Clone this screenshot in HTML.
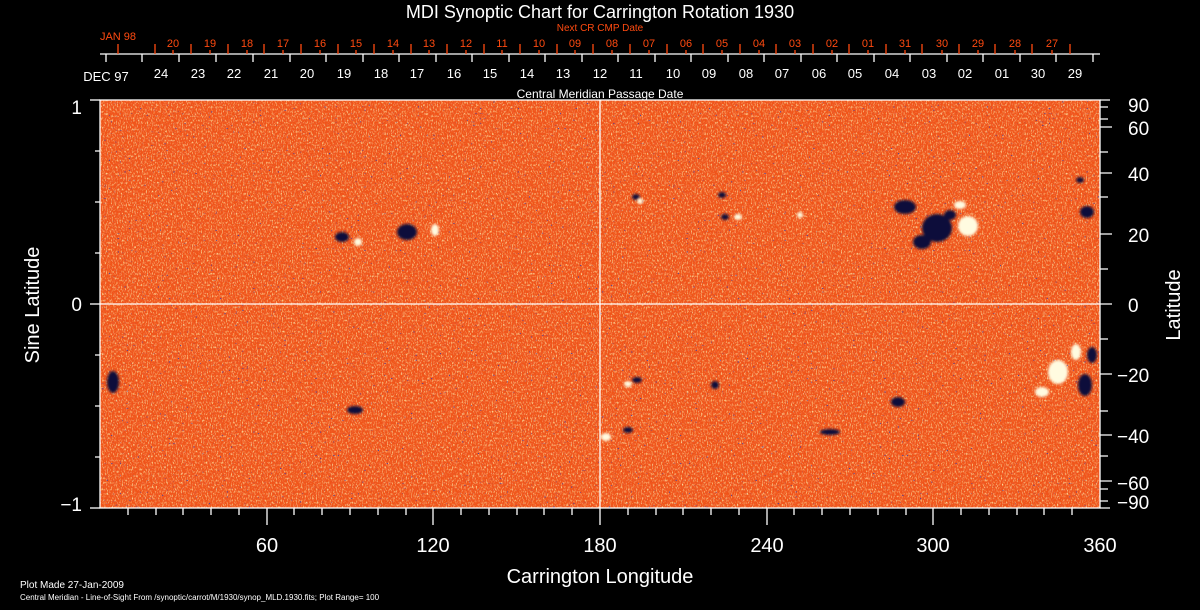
<!DOCTYPE html>
<html><head><meta charset="utf-8"><style>
html,body{margin:0;padding:0;background:#000;}
svg{display:block;}
text{font-family:"Liberation Sans",sans-serif;}
</style></head><body>
<svg width="1200" height="610" viewBox="0 0 1200 610" xmlns="http://www.w3.org/2000/svg">
<defs>
<filter id="tex" x="0" y="0" width="100%" height="100%">
<feTurbulence type="fractalNoise" baseFrequency="0.8 0.45" numOctaves="2" seed="3"/>
<feColorMatrix type="matrix" values="0 0 0 0 1  0 0 0 0 0.92  0 0 0 0 0.45  2.4 0 0 0 -1.2"/>
</filter>
<filter id="tex2" x="0" y="0" width="100%" height="100%">
<feTurbulence type="fractalNoise" baseFrequency="0.7 0.4" numOctaves="2" seed="9"/>
<feColorMatrix type="matrix" values="0 0 0 0 0.85  0 0 0 0 0.12  0 0 0 0 0.05  2 0 0 0 -0.95"/>
</filter>
<filter id="spk" x="0" y="0" width="100%" height="100%">
<feTurbulence type="fractalNoise" baseFrequency="0.45 0.6" numOctaves="1" seed="21"/>
<feColorMatrix type="matrix" values="0 0 0 0 0.05  0 0 0 0 0.05  0 0 0 0 0.4  10 0 0 0 -7.0"/>
</filter>
<filter id="bl"><feGaussianBlur stdDeviation="1.2"/></filter>
<clipPath id="cp"><rect x="100" y="100" width="1000" height="408"/></clipPath>
</defs>
<g clip-path="url(#cp)">
<rect x="100" y="100" width="1000" height="408" fill="#f05418"/>
<rect x="100" y="100" width="1000" height="408" filter="url(#tex2)"/>
<rect x="100" y="100" width="1000" height="408" filter="url(#tex)"/>
<rect x="100" y="100" width="1000" height="408" filter="url(#spk)"/>
<g fill="#0c0c3a" filter="url(#bl)">
<ellipse cx="937" cy="228" rx="15" ry="14"/><ellipse cx="905" cy="207" rx="11" ry="7"/>
<ellipse cx="922" cy="242" rx="9" ry="7"/><ellipse cx="950" cy="215" rx="6" ry="5"/>
<ellipse cx="1087" cy="212" rx="7" ry="6"/>
<ellipse cx="342" cy="237" rx="7" ry="5"/><ellipse cx="407" cy="232" rx="10" ry="8"/>
<ellipse cx="113" cy="382" rx="6" ry="11"/><ellipse cx="1085" cy="385" rx="7" ry="11"/>
<ellipse cx="1092" cy="355" rx="5" ry="8"/><ellipse cx="898" cy="402" rx="7" ry="5"/>
<ellipse cx="628" cy="430" rx="5" ry="3"/><ellipse cx="637" cy="380" rx="5" ry="3"/>
<ellipse cx="725" cy="217" rx="4" ry="3"/><ellipse cx="722" cy="195" rx="4" ry="3"/>
<ellipse cx="636" cy="197" rx="4" ry="3"/><ellipse cx="355" cy="410" rx="8" ry="4"/>
<ellipse cx="1080" cy="180" rx="4" ry="3"/><ellipse cx="830" cy="432" rx="10" ry="3"/>
<ellipse cx="715" cy="385" rx="4" ry="4"/>
</g>
<g fill="#fffbe0" filter="url(#bl)">
<ellipse cx="968" cy="226" rx="10" ry="10"/><ellipse cx="960" cy="205" rx="6" ry="4"/>
<ellipse cx="358" cy="242" rx="4" ry="4"/><ellipse cx="435" cy="230" rx="4" ry="6"/>
<ellipse cx="1058" cy="372" rx="10" ry="12"/><ellipse cx="1042" cy="392" rx="7" ry="5"/>
<ellipse cx="1076" cy="352" rx="5" ry="8"/><ellipse cx="606" cy="437" rx="5" ry="4"/>
<ellipse cx="628" cy="384" rx="4" ry="3"/><ellipse cx="738" cy="217" rx="4" ry="3"/>
<ellipse cx="640" cy="201" rx="3" ry="3"/><ellipse cx="800" cy="215" rx="3" ry="3"/>
</g>
</g>
<g stroke="#fff" stroke-width="1.3" fill="none">
<rect x="100" y="100" width="1000" height="408"/>
<line x1="100" y1="304" x2="1100" y2="304"/>
<line x1="600" y1="100" x2="600" y2="508"/>
<line x1="90" y1="100" x2="100" y2="100"/><line x1="90" y1="508" x2="100" y2="508"/><line x1="90" y1="304" x2="100" y2="304"/>
<path d="M95 151H100M95 202H100M95 253H100M95 355H100M95 406H100M95 457H100"/>
<path d="M128 508V515M156 508V515M183 508V515M211 508V515M239 508V515M267 508V525M294 508V515M322 508V515M350 508V515M378 508V515M406 508V515M433 508V525M461 508V515M489 508V515M517 508V515M544 508V515M572 508V515M600 508V525M628 508V515M656 508V515M683 508V515M711 508V515M739 508V515M767 508V525M794 508V515M822 508V515M850 508V515M878 508V515M906 508V515M933 508V525M961 508V515M989 508V515M1017 508V515M1044 508V515M1072 508V515"/>
<path d="M1100 100H1110M1100 107H1108M1100 119H1108M1100 127H1112M1100 152H1108M1100 173H1112M1100 197H1108M1100 234H1112M1100 269H1108M1100 304H1112M1100 339H1108M1100 374H1112M1100 411H1108M1100 435H1112M1100 456H1108M1100 481H1112M1100 489H1108M1100 501H1108M1100 508H1110"/>
<line x1="100" y1="54" x2="1100" y2="54"/>
<path d="M106 54V62M142 54V62M179 54V62M216 54V62M253 54V62M290 54V62M326 54V62M363 54V62M399 54V62M436 54V62M472 54V62M509 54V62M545 54V62M582 54V62M618 54V62M655 54V62M691 54V62M728 54V62M764 54V62M801 54V62M837 54V62M874 54V62M910 54V62M947 54V62M983 54V62M1020 54V62M1056 54V62M1093 54V62"/>
</g>
<g stroke="#ff4a10" stroke-width="1.3">
<path d="M118 54V44M155 54V44M191 54V44M228 54V44M264 54V44M301 54V44M338 54V44M374 54V44M411 54V44M447 54V44M484 54V44M520 54V44M557 54V44M593 54V44M630 54V44M667 54V44M703 54V44M740 54V44M776 54V44M813 54V44M849 54V44M886 54V44M922 54V44M959 54V44M995 54V44M1032 54V44M1070 54V44"/>
<path d="M173 54V50M210 54V50M247 54V50M283 54V50M320 54V50M356 54V50M393 54V50M429 54V50M466 54V50M502 54V50M539 54V50M575 54V50M612 54V50M649 54V50M686 54V50M722 54V50M759 54V50M795 54V50M832 54V50M868 54V50M905 54V50M942 54V50M978 54V50M1015 54V50M1052 54V50"/>
</g>
<text x="600" y="18" fill="#fff" font-size="18" text-anchor="middle">MDI Synoptic Chart for Carrington Rotation 1930</text>
<text x="600" y="31" fill="#ff4a10" font-size="10" text-anchor="middle">Next CR CMP Date</text>
<g fill="#ff4a10" font-size="11" text-anchor="middle">
<text x="118" y="40">JAN 98</text>
<text x="173" y="47">20</text><text x="210" y="47">19</text><text x="247" y="47">18</text><text x="283" y="47">17</text><text x="320" y="47">16</text><text x="356" y="47">15</text><text x="393" y="47">14</text><text x="429" y="47">13</text><text x="466" y="47">12</text><text x="502" y="47">11</text><text x="539" y="47">10</text><text x="575" y="47">09</text><text x="612" y="47">08</text><text x="649" y="47">07</text><text x="686" y="47">06</text><text x="722" y="47">05</text><text x="759" y="47">04</text><text x="795" y="47">03</text><text x="832" y="47">02</text><text x="868" y="47">01</text><text x="905" y="47">31</text><text x="942" y="47">30</text><text x="978" y="47">29</text><text x="1015" y="47">28</text><text x="1052" y="47">27</text>
</g>
<g fill="#fff" font-size="13" text-anchor="middle">
<text x="106" y="81">DEC 97</text>
<text x="161" y="78">24</text><text x="198" y="78">23</text><text x="234" y="78">22</text><text x="271" y="78">21</text><text x="307" y="78">20</text><text x="344" y="78">19</text><text x="381" y="78">18</text><text x="417" y="78">17</text><text x="454" y="78">16</text><text x="490" y="78">15</text><text x="527" y="78">14</text><text x="563" y="78">13</text><text x="600" y="78">12</text><text x="636" y="78">11</text><text x="673" y="78">10</text><text x="709" y="78">09</text><text x="746" y="78">08</text><text x="782" y="78">07</text><text x="819" y="78">06</text><text x="855" y="78">05</text><text x="892" y="78">04</text><text x="929" y="78">03</text><text x="965" y="78">02</text><text x="1002" y="78">01</text><text x="1038" y="78">30</text><text x="1075" y="78">29</text>
</g>
<text x="600" y="98" fill="#fff" font-size="12" text-anchor="middle">Central Meridian Passage Date</text>
<g fill="#fff" font-size="19" text-anchor="end">
<text x="82" y="114">1</text><text x="82" y="311">0</text><text x="82" y="511">−1</text>
</g>
<g fill="#fff" font-size="19" text-anchor="start">
<text x="1128" y="112">90</text><text x="1128" y="135">60</text><text x="1128" y="181">40</text><text x="1128" y="242">20</text><text x="1128" y="312">0</text><text x="1117" y="382">−20</text><text x="1117" y="443">−40</text><text x="1117" y="490">−60</text><text x="1117" y="509">−90</text>
</g>
<g fill="#fff" font-size="20" text-anchor="middle">
<text x="267" y="552">60</text><text x="433" y="552">120</text><text x="600" y="552">180</text><text x="767" y="552">240</text><text x="933" y="552">300</text><text x="1100" y="552">360</text>
<text x="600" y="583">Carrington Longitude</text>
<text transform="translate(39,305) rotate(-90)">Sine Latitude</text>
<text transform="translate(1180,305) rotate(-90)">Latitude</text>
</g>
<text x="20" y="588" fill="#fff" font-size="10">Plot Made 27-Jan-2009</text>
<text x="20" y="600" fill="#fff" font-size="8">Central Meridian - Line-of-Sight From /synoptic/carrot/M/1930/synop_MLD.1930.fits; Plot Range= 100</text>
</svg>
</body></html>
